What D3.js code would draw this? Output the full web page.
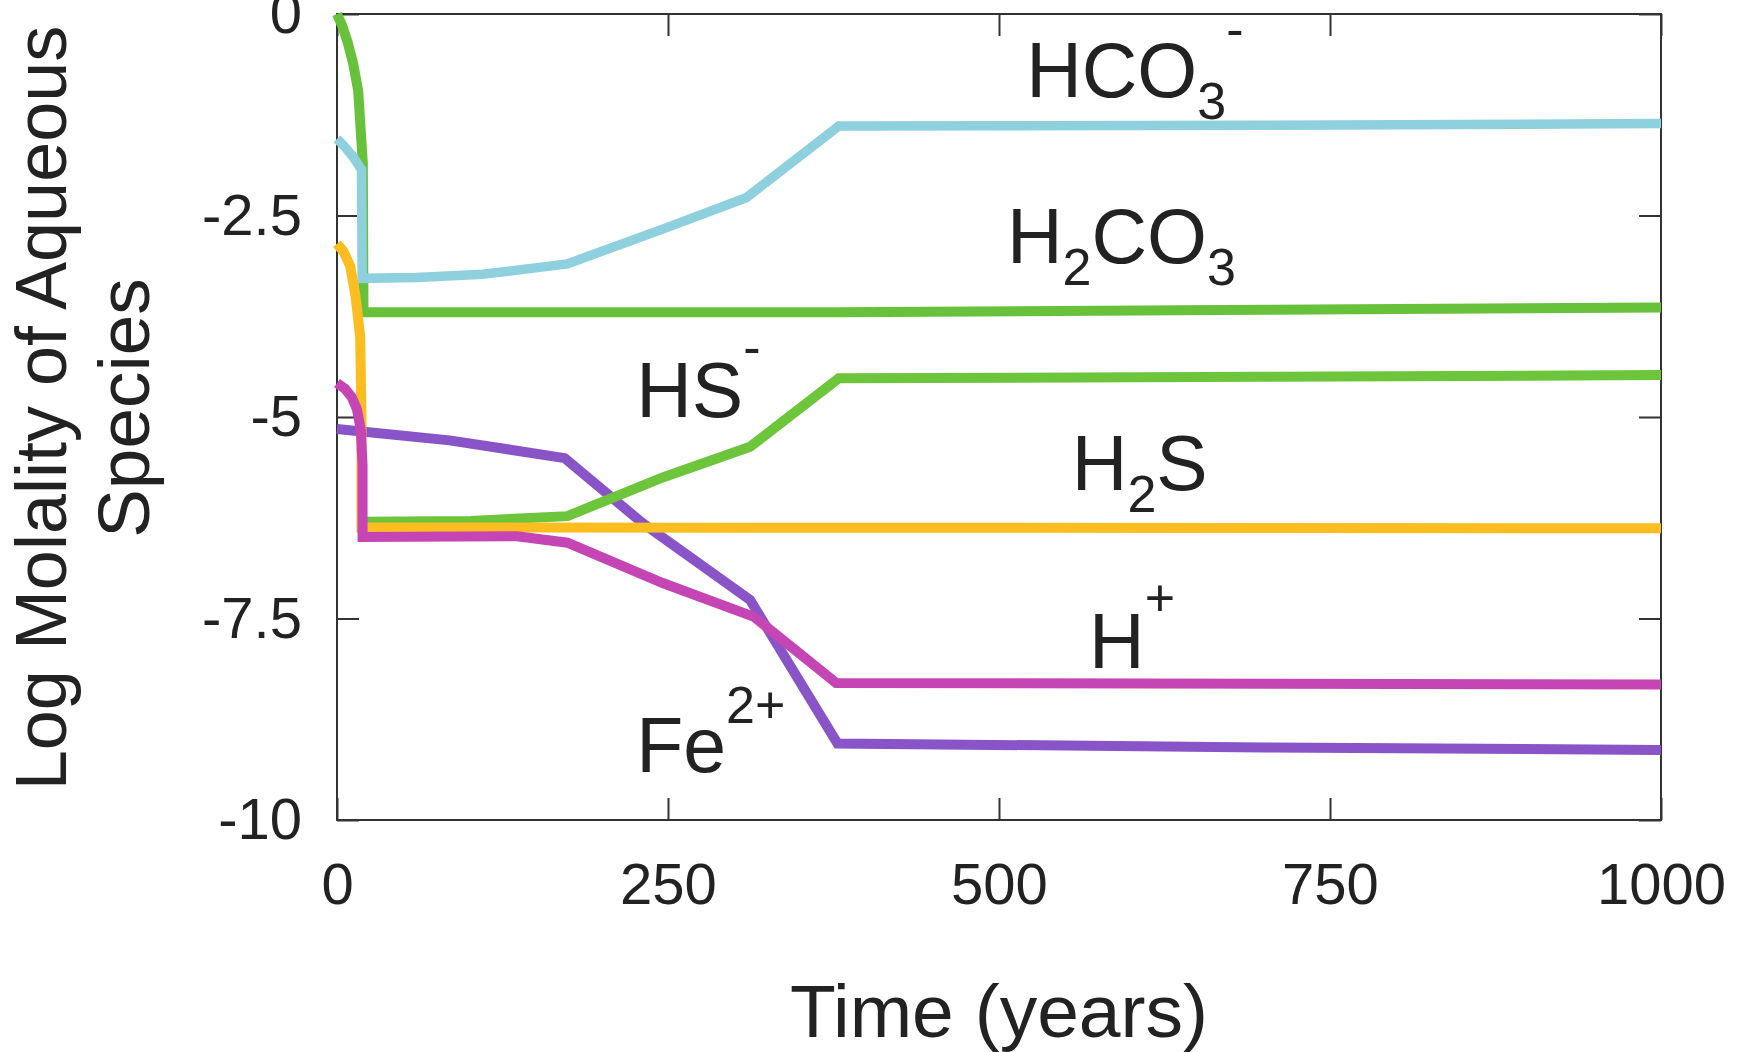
<!DOCTYPE html>
<html>
<head>
<meta charset="utf-8">
<script src="https://cdn.jsdelivr.net/npm/d3@7"></script>
<style>
  html, body { margin: 0; padding: 0; background: #fff; }
  svg { display: block; }
  text { font-family: "Liberation Sans", Arial, Helvetica, sans-serif; fill: #222; }
</style>
</head>
<body>
<svg id="chart" width="1742" height="1052"></svg>
<script>
// Log molality of aqueous species vs. time, pairs of [years, log m]
const hco3 = [[0,-1.55],[6,-1.65],[12,-1.77],[18.5,-1.93],[19,-3.28],[60,-3.27],[110,-3.23],[174,-3.1],[249,-2.65],[309,-2.28],[379,-1.39],[700,-1.38],[1000,-1.36]];
const h2co3 = [[0,0],[4,-0.15],[8,-0.35],[12,-0.6],[16,-0.95],[19.5,-1.85],[20,-3.7],[380,-3.7],[700,-3.67],[1000,-3.64]];
const hs = [[19.5,-6.3],[101,-6.29],[174,-6.23],[246,-5.75],[312,-5.37],[379,-4.52],[700,-4.5],[1000,-4.48]];
const h2s = [[0,-2.85],[5,-2.95],[10,-3.13],[14,-3.5],[17.5,-4.0],[18.5,-5.0],[18.5,-6.37],[1000,-6.38]];
const hplus = [[0,-4.58],[6,-4.65],[11,-4.75],[15,-4.9],[18,-5.16],[19.3,-5.6],[19.3,-6.49],[136,-6.48],[174,-6.56],[246,-7.06],[315,-7.48],[377,-8.3],[1000,-8.32]];
const fe2 = [[0,-5.15],[85,-5.29],[172,-5.51],[231,-6.32],[312,-7.27],[378,-9.05],[700,-9.1],[1000,-9.13]];

const xTicks = [0, 250, 500, 750, 1000];
const xTickLabels = ["0", "250", "500", "750", "1000"];
const yTicks = [0, -2.5, -5, -7.5, -10];
const yTickLabels = ["0", "-2.5", "-5", "-7.5", "-10"];

const svg = d3.select("#chart");
const plotLeft = 337, plotRight = 1661, plotTop = 14, plotBottom = 820;

const x = d3.scaleLinear().domain([0, 1000]).range([plotLeft, plotRight]);
const y = d3.scaleLinear().domain([-10, 0]).range([plotBottom, plotTop]);

// axes with inward ticks on all four sides
const tickLen = 22;
const gx = svg.append("g").attr("transform", `translate(0,${plotBottom})`)
  .call(d3.axisBottom(x).tickValues(xTicks).tickFormat((d, i) => xTickLabels[i])
    .tickSizeInner(-tickLen).tickSizeOuter(0).tickPadding(43));
const gy = svg.append("g").attr("transform", `translate(${plotLeft},0)`)
  .call(d3.axisLeft(y).tickValues(yTicks).tickFormat((d, i) => yTickLabels[i])
    .tickSizeInner(-tickLen).tickSizeOuter(0).tickPadding(35));
const gt = svg.append("g").attr("transform", `translate(0,${plotTop})`)
  .call(d3.axisTop(x).tickValues(xTicks).tickFormat("").tickSizeInner(-tickLen).tickSizeOuter(0));
const gr = svg.append("g").attr("transform", `translate(${plotRight},0)`)
  .call(d3.axisRight(y).tickValues(yTicks).tickFormat("").tickSizeInner(-tickLen).tickSizeOuter(0));

[gx, gy, gt, gr].forEach(g => {
  g.select(".domain").remove();
  g.selectAll(".tick line").attr("stroke", "#333").attr("stroke-width", 2);
  g.selectAll(".tick text").style("font-size", "58px").attr("fill", "#222");
});

// plot frame
svg.append("rect")
  .attr("x", plotLeft).attr("y", plotTop)
  .attr("width", plotRight - plotLeft).attr("height", plotBottom - plotTop)
  .attr("fill", "none").attr("stroke", "#333").attr("stroke-width", 2);

// series
const line = d3.line().x(d => x(d[0])).y(d => y(d[1]));
const series = [
  { data: h2co3, color: "#68c13a", w: 10 },
  { data: hco3,  color: "#8fd0df", w: 9.5 },
  { data: fe2,   color: "#8954c7", w: 10 },
  { data: hs,    color: "#6cc53a", w: 10 },
  { data: h2s,   color: "#fbbd1f", w: 10 },
  { data: hplus, color: "#c645b5", w: 10 }
];
svg.append("g").selectAll("path").data(series).join("path")
  .attr("d", d => line(d.data))
  .attr("fill", "none")
  .attr("stroke", d => d.color)
  .attr("stroke-width", d => d.w)
  .attr("stroke-linejoin", "miter")
  .attr("stroke-miterlimit", 3);

// species labels: parts are [text, baseline shift]
const labels = [
  { t: 520.5, v: -1.03, parts: [["HCO", 0], ["3", 22], ["-", -50]] },
  { t: 506,   v: -3.09, parts: [["H", 0], ["2", 22], ["CO", 0], ["3", 22]] },
  { t: 226,   v: -5.0,  parts: [["HS", 0], ["-", -52]] },
  { t: 555,   v: -5.905, parts: [["H", 0], ["2", 22], ["S", 0]] },
  { t: 568,   v: -8.115, parts: [["H", 0], ["+", -52]] },
  { t: 226,   v: -9.40, parts: [["Fe", 0], ["2+", -49]] }
];
const lg = svg.append("g");
labels.forEach(l => {
  const txt = lg.append("text")
    .attr("x", x(l.t)).attr("y", y(l.v))
    .style("font-size", "77px");
  let cur = 0;
  l.parts.forEach(([s, shift]) => {
    txt.append("tspan")
      .attr("dy", shift - cur)
      .style("font-size", shift === 0 ? "77px" : "52px")
      .text(s);
    cur = shift;
  });
});

// axis titles
svg.append("text")
  .attr("x", (plotLeft + plotRight) / 2).attr("y", 1037)
  .attr("text-anchor", "middle")
  .style("font-size", "75px")
  .text("Time (years)");

svg.append("text")
  .attr("transform", "translate(66,408) rotate(-90)")
  .attr("text-anchor", "middle")
  .style("font-size", "72px")
  .text("Log Molality of Aqueous");
svg.append("text")
  .attr("transform", "translate(149,408) rotate(-90)")
  .attr("text-anchor", "middle")
  .style("font-size", "73px")
  .text("Species");
</script>
</body>
</html>
